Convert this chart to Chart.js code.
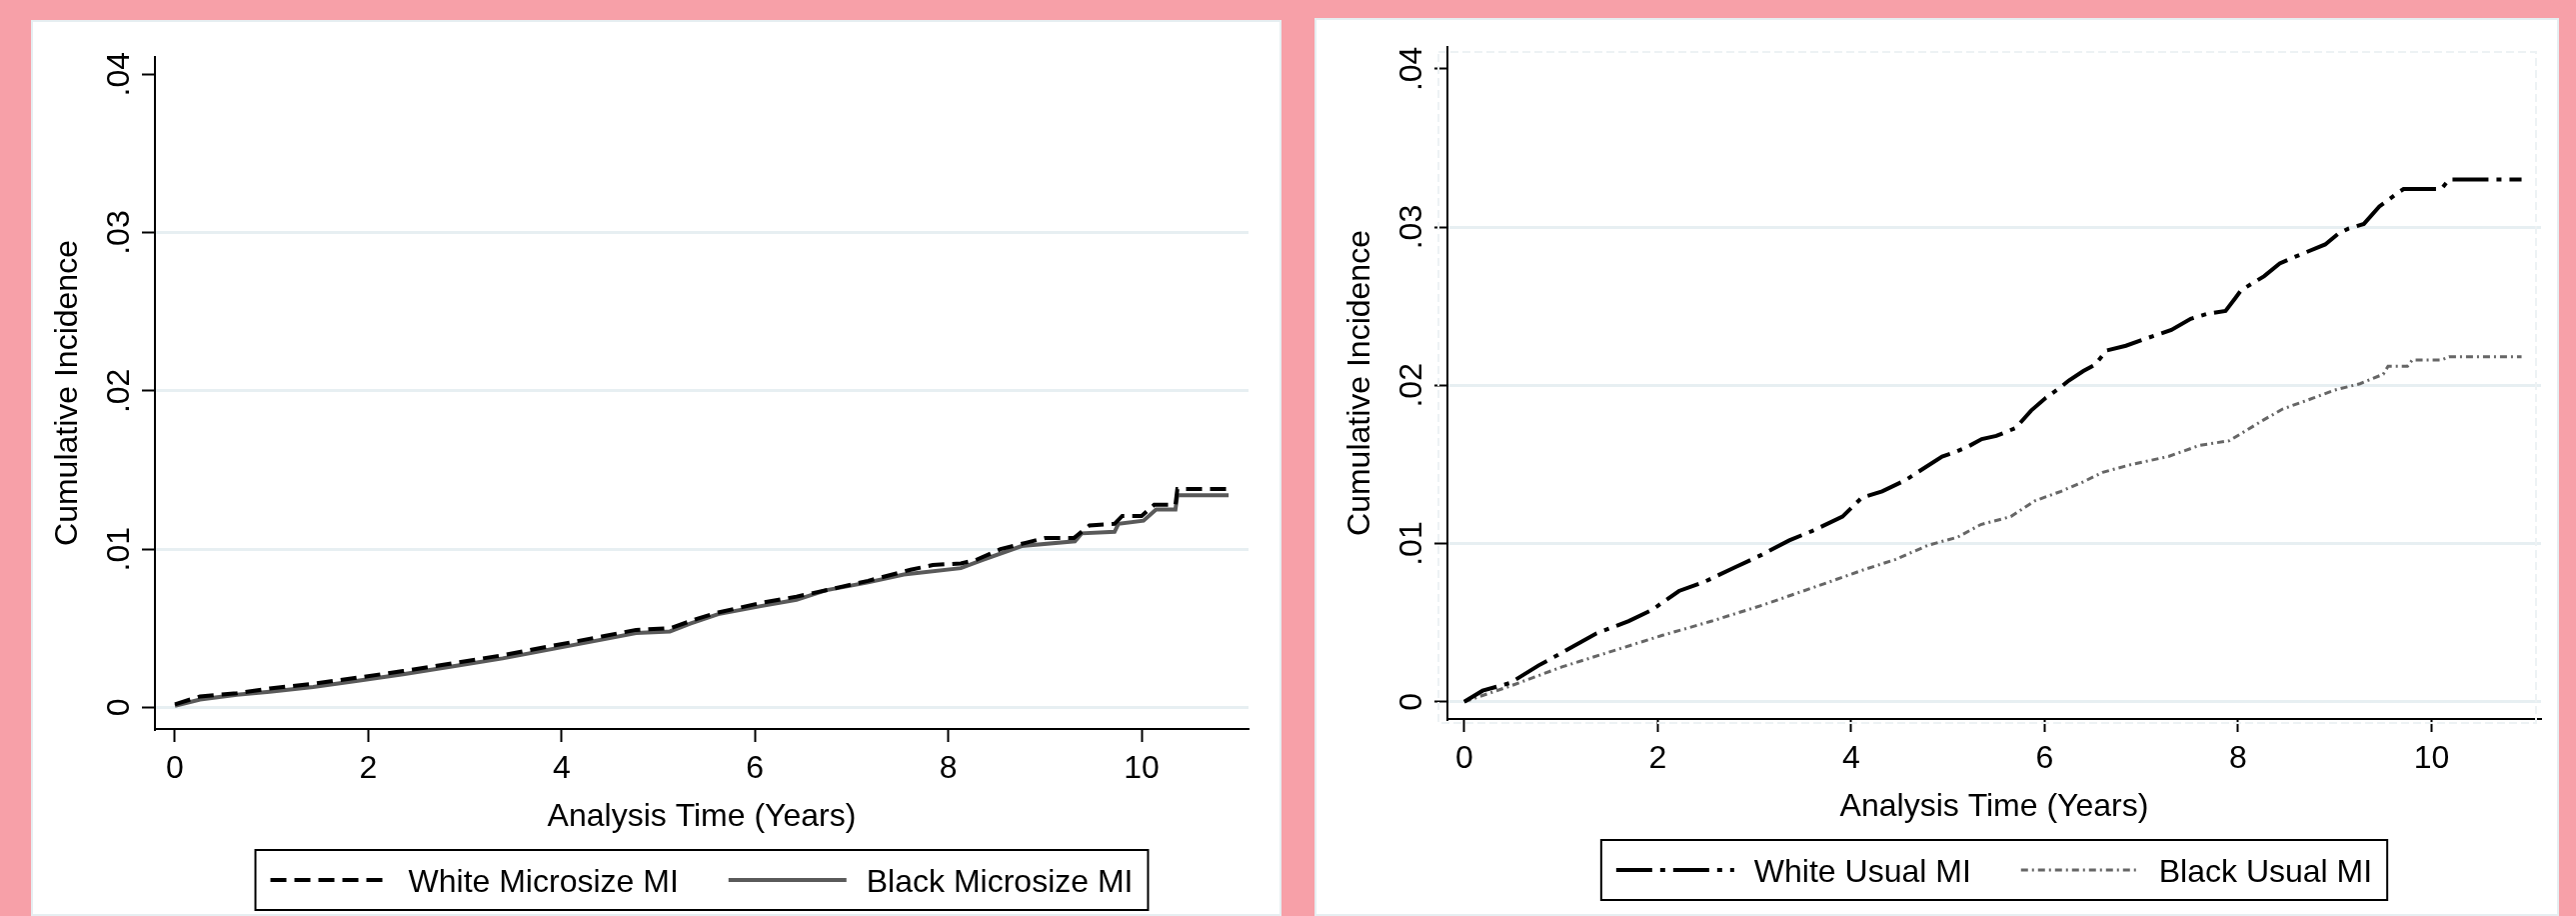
<!DOCTYPE html>
<html>
<head>
<meta charset="utf-8">
<script src="https://cdn.jsdelivr.net/npm/chart.js@4.4.1/dist/chart.umd.min.js"></script>
<style>
    body {
        margin: 0;
        width: 2577px;
        height: 916px;
        background: #f7a0a8;
        overflow: hidden;
        position: relative;
    }
    .panel {
        position: absolute;
        background: #fff;
        box-shadow: inset 0 0 0 2px #e6eef1;
    }
    #panel-micro { left: 31px; top: 20px; width: 1251px; height: 896px; }
    #panel-usual { left: 1315px; top: 18px; width: 1245px; height: 898px; }
    canvas { position: absolute; left: 0; top: 0; }
</style>
</head>
<body>
<div class="panel" id="panel-micro"><canvas id="grafica-micro" width="1251" height="896"></canvas></div>
<div class="panel" id="panel-usual"><canvas id="grafica-usual" width="1245" height="898"></canvas></div>
<script>
// Ejes
const ticksX = [0, 2, 4, 6, 8, 10]
const ticksY = [0, 0.01, 0.02, 0.03, 0.04]
const etiquetasY = ["0", ".01", ".02", ".03", ".04"]
const tituloX = "Analysis Time (Years)"
const tituloY = "Cumulative Incidence"

// Microsize MI
const tiempoBlancoMicro = [0, 0.26, 0.64, 0.98, 1.43, 1.91, 2.36, 2.88, 3.39, 3.91, 4.43, 4.77, 5.12, 5.4, 5.62, 6.06, 6.43, 6.88, 7.17, 7.61, 7.84, 8.13, 8.28, 8.54, 8.8, 9.0, 9.3, 9.46, 9.72, 9.8, 10.0, 10.13, 10.35, 10.37, 10.9]
const incidenciaBlancoMicro = [0.0002, 0.0007, 0.0009, 0.0012, 0.0015, 0.0019, 0.0023, 0.0028, 0.0033, 0.0039, 0.0045, 0.0049, 0.0050, 0.0056, 0.0060, 0.0066, 0.0070, 0.0076, 0.0080, 0.0087, 0.0090, 0.0091, 0.0093, 0.0100, 0.0104, 0.0107, 0.0107, 0.0115, 0.0116, 0.0121, 0.0121, 0.0128, 0.0128, 0.0138, 0.0138]
const tiempoNegroMicro = [0, 0.26, 0.64, 0.98, 1.43, 1.91, 2.36, 2.88, 3.39, 3.91, 4.43, 4.77, 5.12, 5.33, 5.62, 6.06, 6.43, 6.73, 7.17, 7.54, 8.13, 8.35, 8.76, 9.31, 9.38, 9.72, 9.76, 10.02, 10.15, 10.35, 10.37, 10.9]
const incidenciaNegroMicro = [0.0001, 0.0005, 0.0008, 0.0010, 0.0013, 0.0017, 0.0021, 0.0026, 0.0031, 0.0037, 0.0043, 0.0047, 0.0048, 0.0053, 0.0059, 0.0064, 0.0068, 0.0074, 0.0079, 0.0084, 0.0088, 0.0093, 0.0102, 0.0105, 0.0110, 0.0111, 0.0116, 0.0118, 0.0125, 0.0125, 0.0134, 0.0134]

// Usual MI
const tiempoBlancoUsual = [0, 0.19, 0.48, 0.77, 1.01, 1.36, 1.7, 1.94, 2.22, 2.49, 2.8, 3.08, 3.36, 3.6, 3.91, 4.11, 4.32, 4.56, 4.94, 5.04, 5.2, 5.35, 5.5, 5.7, 5.86, 6.01, 6.17, 6.25, 6.4, 6.52, 6.64, 6.84, 7.07, 7.31, 7.51, 7.67, 7.87, 7.97, 8.03, 8.27, 8.43, 8.58, 8.9, 9.04, 9.14, 9.3, 9.46, 9.66, 9.71, 10.1, 10.18, 10.93]
const incidenciaBlancoUsual = [0, 0.0007, 0.0012, 0.0023, 0.0031, 0.0043, 0.0051, 0.0058, 0.0070, 0.0076, 0.0085, 0.0093, 0.0102, 0.0108, 0.0117, 0.0129, 0.0133, 0.0140, 0.0155, 0.0157, 0.0161, 0.0166, 0.0168, 0.0173, 0.0184, 0.0192, 0.0199, 0.0203, 0.0209, 0.0213, 0.0222, 0.0225, 0.0230, 0.0235, 0.0242, 0.0245, 0.0247, 0.0255, 0.0260, 0.0269, 0.0277, 0.0281, 0.0289, 0.0296, 0.0299, 0.0302, 0.0313, 0.0322, 0.0324, 0.0324, 0.0330, 0.0330]
const tiempoNegroUsual = [0, 0.48, 1.01, 1.53, 2.05, 2.56, 3.08, 3.6, 4.11, 4.46, 4.8, 5.1, 5.34, 5.65, 5.9, 6.17, 6.4, 6.6, 6.9, 7.28, 7.6, 7.91, 8.26, 8.46, 8.78, 9.0, 9.26, 9.5, 9.55, 9.75, 9.8, 10.1, 10.18, 10.93]
const incidenciaNegroUsual = [0, 0.0010, 0.0022, 0.0032, 0.0042, 0.0051, 0.0061, 0.0072, 0.0083, 0.0090, 0.0099, 0.0104, 0.0112, 0.0117, 0.0127, 0.0133, 0.0139, 0.0145, 0.0150, 0.0155, 0.0162, 0.0165, 0.0178, 0.0185, 0.0192, 0.0197, 0.0201, 0.0207, 0.0212, 0.0212, 0.0216, 0.0216, 0.0218, 0.0218]

const fuente = '32px "Liberation Sans", Arial, sans-serif'

function puntos(tiempos, valores) {
    return tiempos.map((t, i) => ({ x: t, y: valores[i] }))
}

// Etiquetas, títulos y leyenda al estilo Stata
const decorado = {
    id: "decorado",
    beforeDatasetsDraw(chart, args, opts) {
        if (!opts.marco) return
        const { ctx, chartArea: a } = chart
        ctx.save()
        ctx.strokeStyle = "#edf2f4"
        ctx.lineWidth = 2
        ctx.setLineDash([8, 4])
        ctx.strokeRect(a.left - 9, a.top + 5, a.right - a.left + 4, a.bottom - a.top - 1)
        ctx.restore()
    },
    afterDraw(chart, args, opts) {
        const { ctx, chartArea: a, scales } = chart
        ctx.save()
        ctx.fillStyle = "#000"
        ctx.font = fuente

        // Etiquetas del eje Y, giradas
        ctx.textAlign = "center"
        ctx.textBaseline = "alphabetic"
        ticksY.forEach((v, i) => {
            const y = scales.y.getPixelForValue(v)
            ctx.save()
            ctx.translate(a.left - 26, y)
            ctx.rotate(-Math.PI / 2)
            ctx.fillText(etiquetasY[i], 0, 0)
            ctx.restore()
        })

        // Título Y
        ctx.save()
        ctx.translate(a.left - 78, (a.top + a.bottom) / 2)
        ctx.rotate(-Math.PI / 2)
        ctx.fillText(tituloY, 0, 0)
        ctx.restore()

        // Etiquetas y título del eje X
        ticksX.forEach(v => {
            ctx.fillText(String(v), scales.x.getPixelForValue(v), a.bottom + 49)
        })
        const centro = (a.left + a.right) / 2
        ctx.fillText(tituloX, centro, a.bottom + 97)

        // Leyenda
        const muestra = 118, hueco = 20, separacion = 50, margen = 15
        const series = chart.data.datasets
        let ancho = margen * 2
        series.forEach((s, i) => {
            ancho += muestra + hueco + ctx.measureText(s.label).width
            if (i > 0) ancho += separacion
        })
        const arriba = a.bottom + 121, alto = 60
        let x = centro - ancho / 2
        ctx.strokeStyle = "#000"
        ctx.lineWidth = 2
        ctx.strokeRect(x, arriba, ancho, alto)
        x += margen
        ctx.textAlign = "left"
        series.forEach((s, i) => {
            if (i > 0) x += separacion
            ctx.save()
            ctx.strokeStyle = s.borderColor
            ctx.lineWidth = s.borderWidth
            ctx.setLineDash(s.borderDash || [])
            ctx.beginPath()
            ctx.moveTo(x, arriba + alto / 2)
            ctx.lineTo(x + muestra, arriba + alto / 2)
            ctx.stroke()
            ctx.restore()
            x += muestra + hueco
            ctx.fillText(s.label, x, arriba + alto / 2 + 11.5)
            x += ctx.measureText(s.label).width
        })
        ctx.restore()
    }
}

function graficaIncidencia(id, series, rangoX, rangoY, relleno, marco) {
    const ctx = document.getElementById(id)
    new Chart(ctx, {
        type: "line",
        data: {
            datasets: series.map(s => ({
                label: s.label,
                data: s.data,
                borderColor: s.color,
                borderWidth: s.grosor,
                borderDash: s.trazo,
                pointRadius: 0,
                tension: 0,
                fill: false
            }))
        },
        options: {
            responsive: false,
            animation: false,
            devicePixelRatio: 1,
            layout: { padding: relleno },
            plugins: {
                legend: { display: false },
                tooltip: { enabled: false },
                decorado: { marco }
            },
            scales: {
                x: {
                    type: "linear",
                    min: rangoX[0],
                    max: rangoX[1],
                    afterBuildTicks: s => { s.ticks = ticksX.map(v => ({ value: v })) },
                    ticks: { display: false },
                    grid: {
                        drawOnChartArea: false,
                        drawTicks: true,
                        tickLength: 13,
                        tickWidth: 2,
                        tickColor: "#000"
                    },
                    border: { display: true, color: "#000", width: 2 }
                },
                y: {
                    type: "linear",
                    min: rangoY[0],
                    max: rangoY[1],
                    afterBuildTicks: s => { s.ticks = ticksY.map(v => ({ value: v })) },
                    ticks: { display: false },
                    grid: {
                        color: c => (c.tick && c.tick.value >= 0.04 ? "rgba(0,0,0,0)" : "#e7eff2"),
                        lineWidth: 3,
                        drawTicks: true,
                        tickLength: 13,
                        tickWidth: 2,
                        tickColor: "#000"
                    },
                    border: { display: true, color: "#000", width: 2 }
                }
            }
        },
        plugins: [decorado]
    })
}

graficaIncidencia("grafica-micro", [
    { label: "White Microsize MI", data: puntos(tiempoBlancoMicro, incidenciaBlancoMicro), color: "#000", grosor: 4, trazo: [16, 8] },
    { label: "Black Microsize MI", data: puntos(tiempoNegroMicro, incidenciaNegroMicro), color: "#5a5a5a", grosor: 4, trazo: [] }
], [-0.2068, 11.106], [-0.00136, 0.04109], { left: 111, top: 37, right: 33, bottom: 174 }, false)

graficaIncidencia("grafica-usual", [
    { label: "White Usual MI", data: puntos(tiempoBlancoUsual, incidenciaBlancoUsual), color: "#000", grosor: 4, trazo: [36, 8, 5, 8] },
    { label: "Black Usual MI", data: puntos(tiempoNegroUsual, incidenciaNegroUsual), color: "#666", grosor: 3, trazo: [7, 4, 2, 4] }
], [-0.1736, 11.131], [-0.00109, 0.04138], { left: 120, top: 29, right: 18, bottom: 184 }, true)
</script>
</body>
</html>
